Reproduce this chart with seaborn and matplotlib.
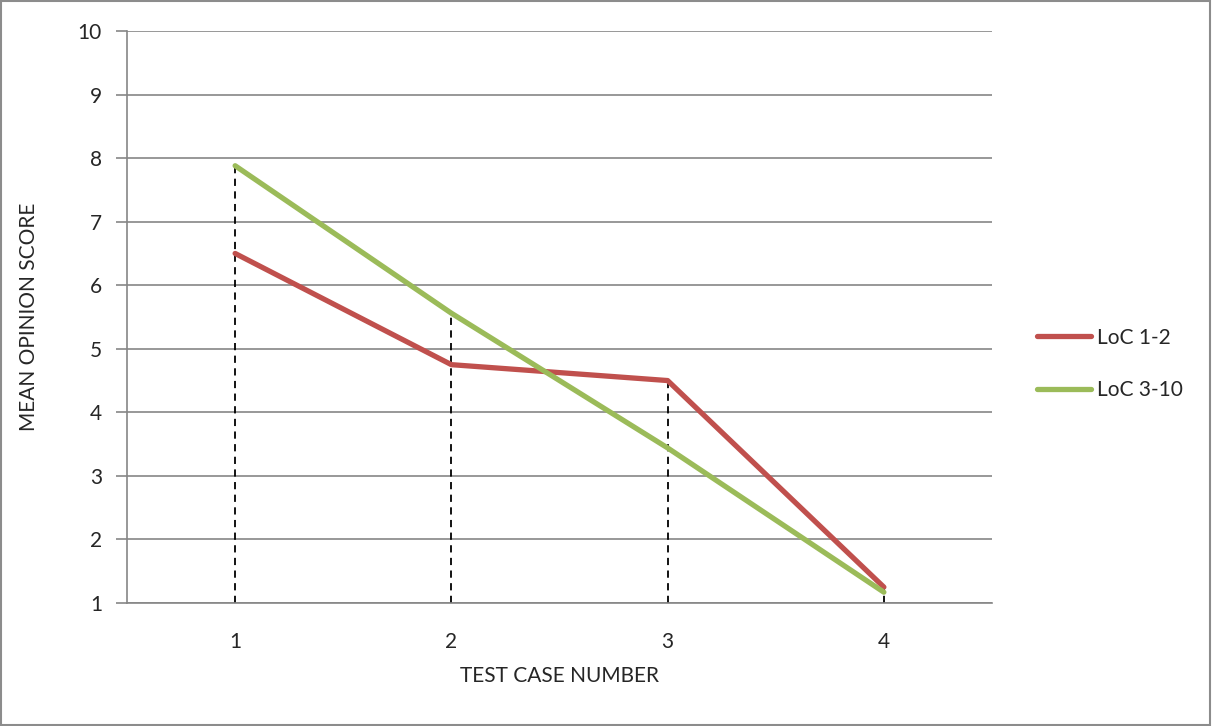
import matplotlib
matplotlib.use("Agg")
import matplotlib.pyplot as plt
import seaborn as sns
import pandas as pd
import numpy as np
from matplotlib.patches import Rectangle

test_cases = [1, 2, 3, 4]
loc_1_2 = [6.5, 4.75, 4.5, 1.25]
loc_3_10 = [7.88, 5.56, 3.44, 1.17]
series_names = ["LoC 1-2", "LoC 3-10"]
y_ticks = [1, 2, 3, 4, 5, 6, 7, 8, 9, 10]

sns.set_theme(style="white")
plt.rcParams['font.family'] = ['Lato', 'DejaVu Sans']

df = pd.DataFrame({
    "case": test_cases * 2,
    "score": loc_1_2 + loc_3_10,
    "series": [series_names[0]] * 4 + [series_names[1]] * 4,
})

fig = plt.figure(figsize=(12.12, 7.26), dpi=100)
ax = fig.add_axes([127/1212, 1 - 603/726, (992-127)/1212, (603-31)/726])

grid_c = "#868686"
for yv in y_ticks:
    ax.axhline(yv, color=grid_c, lw=1.2, zorder=0)

# drop lines from highest value to axis
tops = np.maximum(loc_1_2, loc_3_10)
ax.vlines(test_cases, 1, tops, colors="black", linestyles=(0, (4, 3)), lw=1.3, zorder=1)

sns.lineplot(data=df, x="case", y="score", hue="series",
             palette=["#C0504D", "#9BBB59"], lw=3.8, ax=ax,
             legend=True, zorder=3)
for ln in ax.get_lines():
    ln.set_solid_capstyle("round")

fs = 15
ax.set_xlim(0.5, 4.5)
ax.set_ylim(1, 10)
ax.set_xticks(test_cases)
ax.set_xticklabels([str(c) for c in test_cases])
ax.set_yticks(y_ticks)
ax.tick_params(axis="y", direction="out", length=8, width=1.2, color=grid_c,
               labelsize=fs, pad=10, left=True)
ax.tick_params(axis="x", length=0, labelsize=fs, pad=21)
for s in ["top", "right"]:
    ax.spines[s].set_visible(False)
ax.spines["left"].set_color(grid_c)
ax.spines["left"].set_linewidth(1.2)
ax.spines["bottom"].set_color(grid_c)
ax.spines["bottom"].set_linewidth(1.2)
ax.set_xlabel("TEST CASE NUMBER", fontsize=fs, labelpad=10)
ax.set_ylabel("MEAN OPINION SCORE", fontsize=fs, labelpad=28)

handles, labels = ax.get_legend_handles_labels()
leg = ax.legend(handles, labels, loc="center left", bbox_to_anchor=(1.03, 0.418),
                frameon=False, fontsize=fs, handlelength=2.6, handletextpad=0.3,
                labelspacing=1.55)
for h in leg.legend_handles:
    h.set_linewidth(3.8)
    h.set_solid_capstyle("round")

fig.patches.append(Rectangle((0.001, 0.001), 0.997, 0.997, transform=fig.transFigure,
                             fill=False, edgecolor="#8c8c8c", lw=1.5))

fig.savefig("out.png", dpi=100)
